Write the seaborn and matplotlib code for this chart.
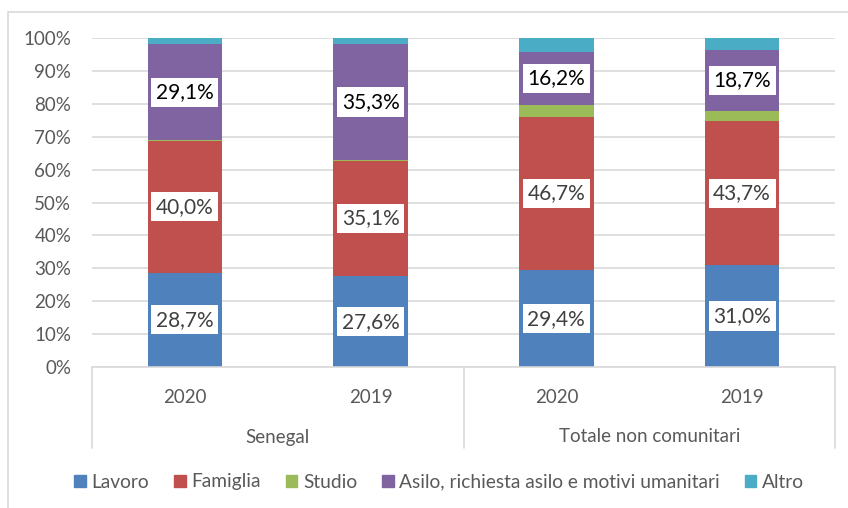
import matplotlib
matplotlib.use('Agg')
import matplotlib.pyplot as plt
import seaborn as sns
import numpy as np
import pandas as pd
from matplotlib.patches import Rectangle
from matplotlib.lines import Line2D

# Data (percent shares)
groups = ['Senegal', 'Senegal', 'Totale non comunitari', 'Totale non comunitari']
years = ['2020', '2019', '2020', '2019']
motivi = ['Lavoro', 'Famiglia', 'Studio', 'Asilo, richiesta asilo e motivi umanitari', 'Altro']
lavoro = [28.7, 27.6, 29.4, 31.0]
famiglia = [40.0, 35.1, 46.7, 43.7]
studio = [0.3, 0.2, 3.5, 3.1]
asilo = [29.1, 35.3, 16.2, 18.7]
altro = [1.9, 1.8, 4.2, 3.5]
colors = ['#4F81BD', '#C0504D', '#9BBB59', '#8064A2', '#4BACC6']

sns.set_style('white')
plt.rcParams['font.family'] = ['Lato', 'DejaVu Sans']

series = [lavoro, famiglia, studio, asilo, altro]
keys = [g + ' ' + y for g, y in zip(groups, years)]
df = pd.DataFrame({'key': keys})
for name, vals in zip(motivi, series):
    df[name] = vals

fig = plt.figure(figsize=(8.48, 5.08), dpi=100)
ax = fig.add_axes([92 / 848, 1 - 367 / 508, 743 / 848, 329 / 508])

bottom = np.zeros(len(keys))
for name, col in zip(motivi, colors):
    sns.barplot(data=df, x='key', y=name, bottom=bottom, color=col, width=0.4,
                saturation=1, ax=ax, zorder=2, linewidth=0, edgecolor='none')
    bottom = bottom + df[name].values

# data labels for Lavoro, Famiglia, Asilo
cum = np.zeros(len(keys))
for i, name in enumerate(motivi):
    vals = df[name].values
    if name in ('Lavoro', 'Famiglia', 'Asilo, richiesta asilo e motivi umanitari'):
        tc = '#000000' if i == 3 else '#404040'
        for j, v in enumerate(vals):
            ax.text(j, cum[j] + v / 2, f'{v:.1f}%'.replace('.', ','), ha='center', va='center',
                    fontsize=15, color=tc, zorder=4,
                    bbox=dict(boxstyle='square,pad=0.22', fc='white', ec='none'))
    cum = cum + vals

ax.set_ylim(0, 100)
ax.set_xlim(-0.5, 3.5)
ax.set_yticks(np.arange(0, 101, 10))
ax.set_yticklabels([f'{t}%' for t in range(0, 101, 10)], fontsize=13.5, color='#595959')
ax.yaxis.grid(True, color='#D9D9D9', linewidth=1.2, zorder=0)
ax.set_axisbelow(True)
ax.tick_params(axis='y', length=0, pad=15)
ax.tick_params(axis='x', length=0, pad=16)
ax.set_xticks(range(4))
ax.set_xticklabels(years, fontsize=13.5, color='#595959')
ax.set_xlabel('')
ax.set_ylabel('')
for s in ['top', 'right', 'left']:
    ax.spines[s].set_visible(False)
ax.spines['bottom'].set_color('#D9D9D9')
ax.spines['bottom'].set_linewidth(1.2)

# hierarchical category axis
trans = ax.get_xaxis_transform()
for xv in [-0.5, 1.5, 3.5]:
    ax.add_line(Line2D([xv, xv], [0, -81 / 329], transform=trans, color='#D9D9D9',
                       linewidth=1.2, clip_on=False))
ax.text(0.5, -70 / 329, 'Senegal', transform=trans, ha='center', va='center',
        fontsize=13.5, color='#595959')
ax.text(2.5, -70 / 329, 'Totale non comunitari', transform=trans, ha='center', va='center',
        fontsize=13.5, color='#595959')

# legend
handles = [Rectangle((0, 0), 1, 1, color=c) for c in colors]
fig.legend(handles, motivi, loc='center', bbox_to_anchor=(0.518, 1 - 482 / 508), ncol=5,
           frameon=False, fontsize=13.8, handlelength=0.6, handleheight=0.6,
           handletextpad=0.3, columnspacing=1.3, labelcolor='#595959')

# chart area border
fig.add_artist(Rectangle((8 / 848, -0.01), 1.0, 1 - 12 / 508 + 0.01, transform=fig.transFigure,
                         fill=False, ec='#D9D9D9', lw=1.2))

fig.savefig('out.png', dpi=100)
